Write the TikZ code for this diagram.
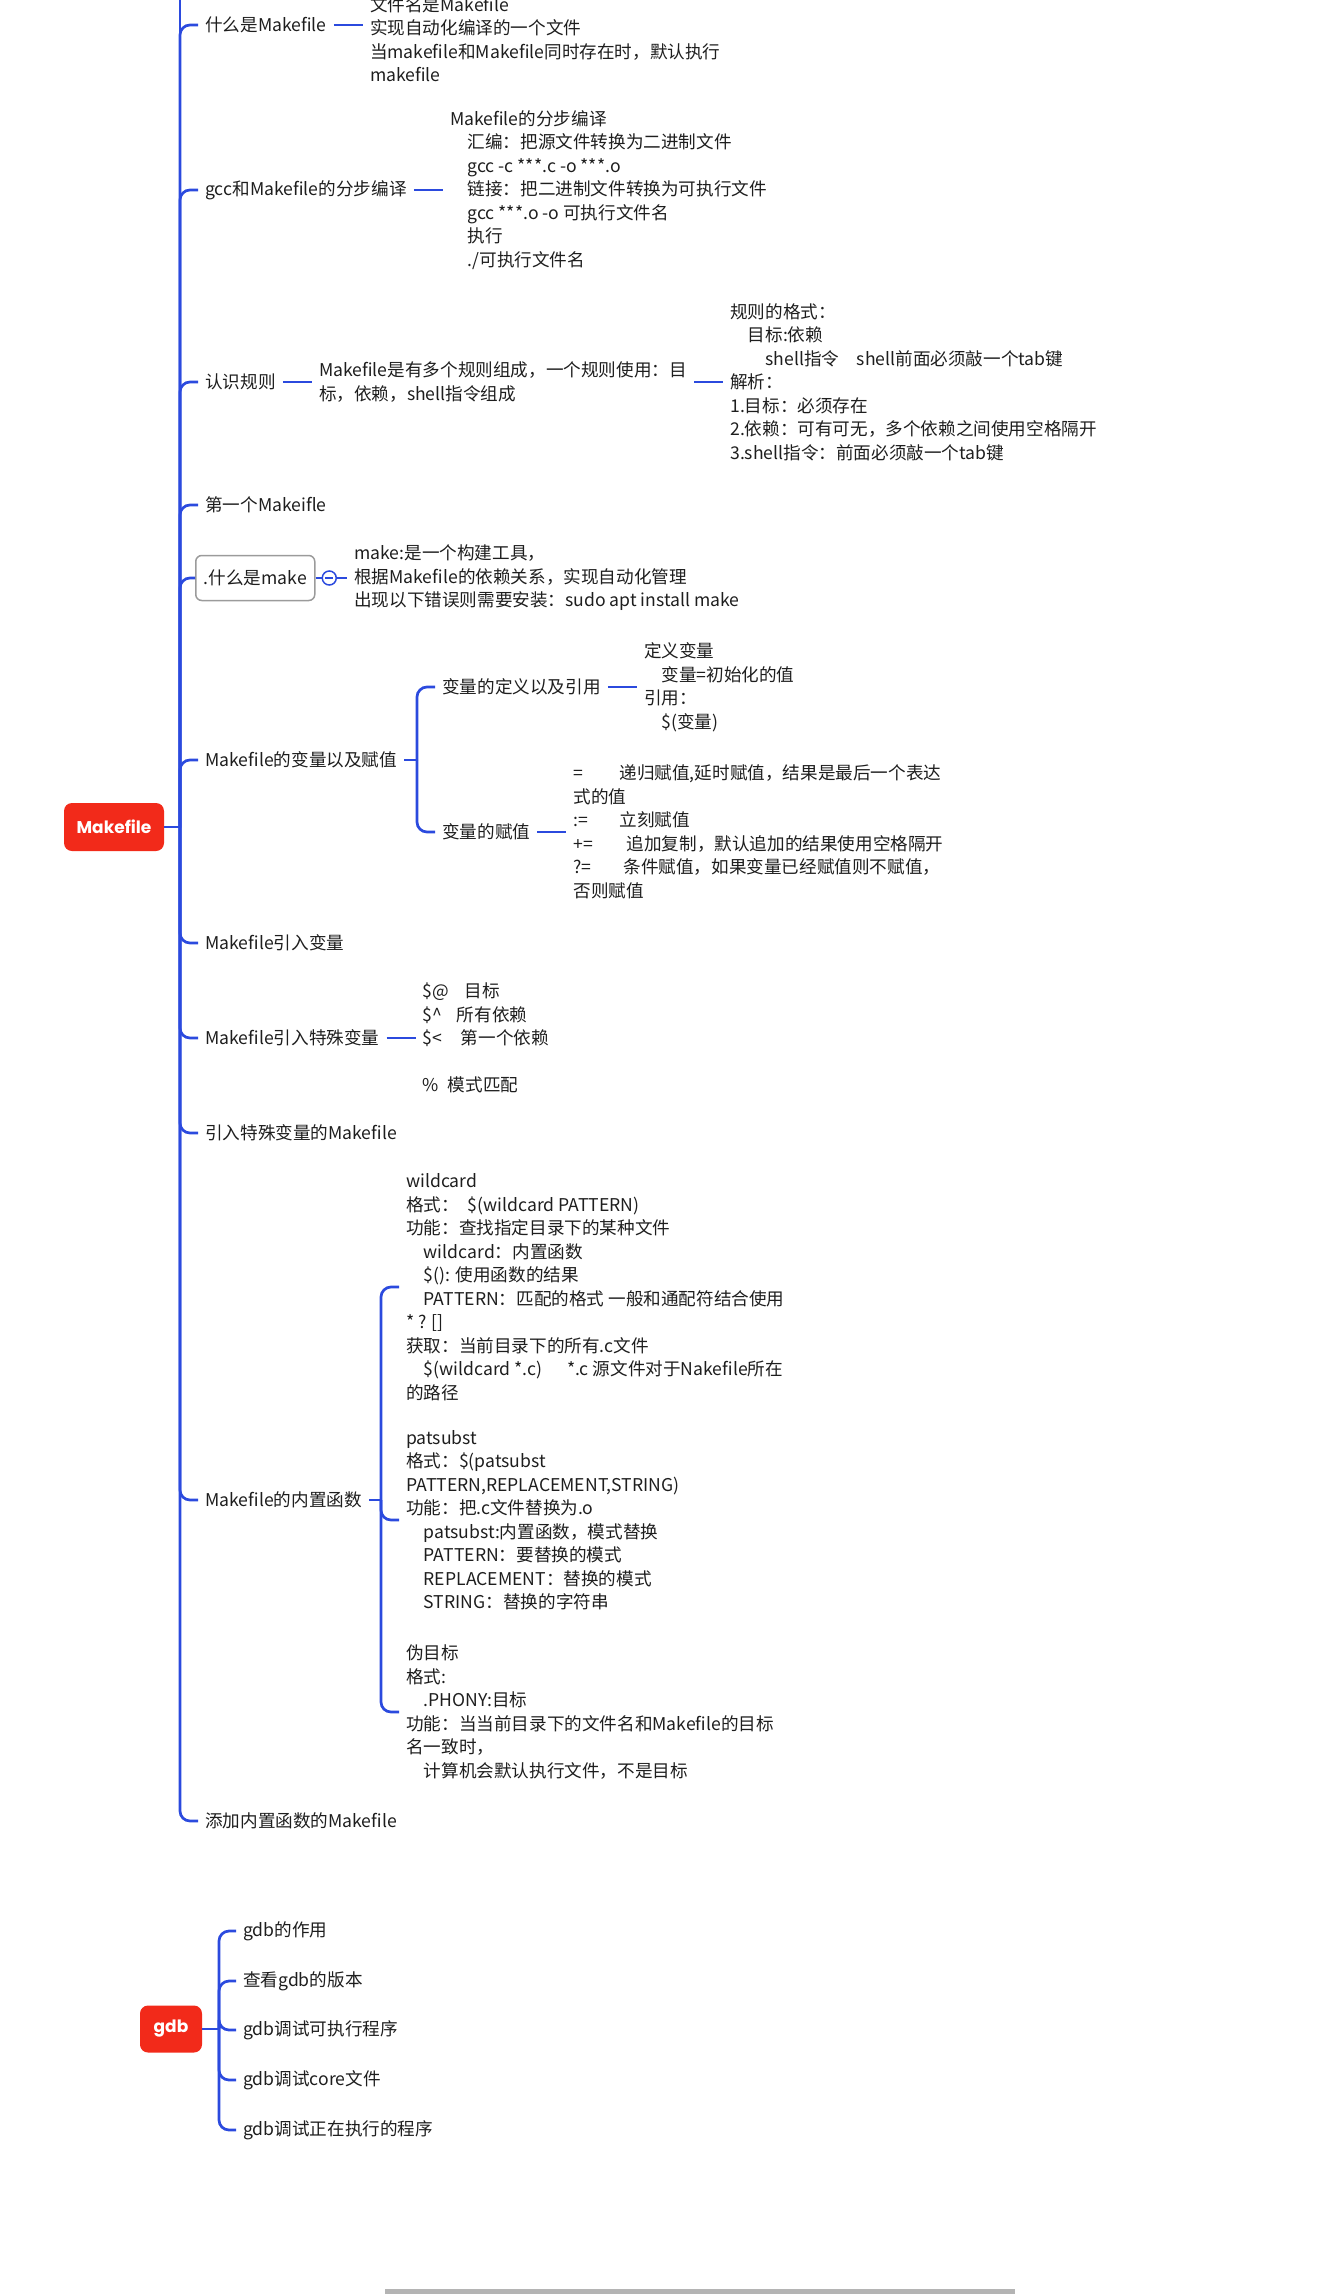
\documentclass[tikz,border=0pt]{standalone}
\usepackage{fontspec}
\setmainfont{Noto Sans CJK SC}
\newfontfamily\rootfont{Poppins}
\usepackage{tikz}
\usetikzlibrary{positioning}
\definecolor{lineblue}{RGB}{43,74,222}
\definecolor{rootred}{RGB}{242,42,26}
\definecolor{boxgrey}{RGB}{155,155,155}
\definecolor{inkgrey}{RGB}{30,30,30}
\definecolor{scrollgrey}{RGB}{180,180,180}
\tikzstyle{root} = [
    rectangle,
    rounded corners=8pt,
    fill=rootred,
    text=white,
    font=\rootfont\bfseries\fontsize{17}{20}\selectfont
]
\tikzstyle{topic} = [
    anchor=west,
    inner xsep=7pt,
    inner ysep=2pt,
    text=inkgrey,
    font=\fontsize{17.6}{23.5}\selectfont
]
\tikzstyle{note} = [
    topic,
    align=left
]
\tikzstyle{branch} = [
    draw=lineblue,
    line width=2.7pt,
    rounded corners=10pt
]
\tikzstyle{stub} = [
    draw=lineblue,
    line width=2.7pt
]

\begin{document}
\begin{tikzpicture}[x=1pt, y=-1pt, node distance=29pt]
    % Screenshot frame
    \useasboundingbox (0,0) rectangle (1322,2294);

    % Makefile root and trunk
    \node[root, minimum width=100pt, minimum height=48pt] (mk) at (114,827) {Makefile};
    \coordinate (mkj) at (180,827);
    \coordinate (mktop) at (180,0);
    \draw[stub] (mk.east) -- (mkj);
    \draw[stub] (mkj) -- (mktop);

    % First level topics
    \node[topic] (what) at (198,25) {什么是Makefile};
    \node[topic] (gcc) at (198,190) {gcc和Makefile的分步编译};
    \node[topic] (rule) at (198,382) {认识规则};
    \node[topic] (first) at (198,505) {第一个Makeifle};
    \node[topic, draw=boxgrey, line width=1.5pt, rounded corners=6pt,
          inner xsep=8pt, minimum height=45pt] (make) at (195,578) {.什么是make};
    \node[topic] (vars) at (198,760) {Makefile的变量以及赋值};
    \node[topic] (usevar) at (198,943) {Makefile引入变量};
    \node[topic] (special) at (198,1038) {Makefile引入特殊变量};
    \node[topic] (usespec) at (198,1133) {引入特殊变量的Makefile};
    \node[topic] (func) at (198,1500) {Makefile的内置函数};
    \node[topic] (usefunc) at (198,1821) {添加内置函数的Makefile};

    \foreach \t in {what,gcc,rule,first,make,vars,usevar,special,usespec,func,usefunc}
        \draw[branch] (mkj) |- (\t.west);

    % What is Makefile
    \node[note, right=of what, yshift=-14pt] (whatn) {文件名是Makefile\\实现自动化编译的一个文件\\当makefile和Makefile同时存在时，默认执行\\makefile};
    \draw[stub] (what.east) -- (what.east -| whatn.west);

    % gcc steps
    \node[note, right=of gcc] (gccn) {Makefile的分步编译\\\hspace*{1em}汇编：把源文件转换为二进制文件\\\hspace*{1em}gcc -c ***.c -o ***.o\\\hspace*{1em}链接：把二进制文件转换为可执行文件\\\hspace*{1em}gcc ***.o -o 可执行文件名\\\hspace*{1em}执行\\\hspace*{1em}./可执行文件名};
    \draw[stub] (gcc.east) -- (gccn.west);

    % Rules
    \node[note, right=of rule] (rulem) {Makefile是有多个规则组成，一个规则使用：目\\标，依赖，shell指令组成};
    \node[note, right=of rulem] (rulen) {规则的格式：\\\hspace*{1em}目标:依赖\\\hspace*{2em}shell指令\hspace{1em}shell前面必须敲一个tab键\\解析：\\1.目标：必须存在\\2.依赖：可有可无，多个依赖之间使用空格隔开\\3.shell指令：前面必须敲一个tab键};
    \draw[stub] (rule.east) -- (rulem.west);
    \draw[stub] (rulem.east) -- (rulen.west);

    % What is make (folded marker)
    \node[circle, draw=lineblue, line width=1.5pt, minimum size=14pt, inner sep=0pt,
          right=6pt of make] (fold) {};
    \draw[lineblue, line width=1.5pt] ([xshift=-4pt]fold.center) -- ([xshift=4pt]fold.center);
    \node[note, right=10pt of fold] (maken) {make:是一个构建工具，\\根据Makefile的依赖关系，实现自动化管理\\出现以下错误则需要安装：sudo apt install make};
    \draw[stub, line width=1.5pt] (make.east) -- (fold.west);
    \draw[stub] (fold.east) -- (maken.west);

    % Variables
    \coordinate (varsj) at (417,760);
    \node[topic] (vdef) at (435,687) {变量的定义以及引用};
    \node[topic] (vset) at (435,832) {变量的赋值};
    \draw[stub] (vars.east) -- (varsj);
    \draw[branch] (varsj) |- (vdef.west);
    \draw[branch] (varsj) |- (vset.west);
    \node[note, right=of vdef] (vdefn) {定义变量\\\hspace*{1em}变量=初始化的值\\引用：\\\hspace*{1em}\$(变量)};
    \draw[stub] (vdef.east) -- (vdefn.west);
    \node[note, right=of vset] (vsetn) {\makebox[46pt][l]{=}递归赋值,延时赋值，结果是最后一个表达\\式的值\\\makebox[46pt][l]{:=}立刻赋值\\\makebox[53pt][l]{+=}追加复制，默认追加的结果使用空格隔开\\\makebox[50pt][l]{?=}条件赋值，如果变量已经赋值则不赋值，\\否则赋值};
    \draw[stub] (vset.east) -- (vsetn.west);

    % Special variables
    \node[note, right=of special] (specn) {\makebox[42pt][l]{\$@}目标\\\makebox[34pt][l]{\$\textasciicircum}所有依赖\\\makebox[38pt][l]{\$<}第一个依赖\\\mbox{}\\\makebox[25pt][l]{\%}模式匹配};
    \draw[stub] (special.east) -- (specn.west);

    % Built-in functions
    \coordinate (funcj) at (381,1500);
    \draw[stub] (func.east) -- (funcj);
    \node[note] (wild) at (399,1287) {wildcard\\格式：\hspace{0.5em}\$(wildcard PATTERN)\\功能：查找指定目录下的某种文件\\\hspace*{1em}wildcard：内置函数\\\hspace*{1em}\$(): 使用函数的结果\\\hspace*{1em}PATTERN：匹配的格式 一般和通配符结合使用\\{}* ? []\\获取：当前目录下的所有.c文件\\\hspace*{1em}\$(wildcard *.c)\hspace{1.4em}*.c 源文件对于Nakefile所在\\的路径};
    \node[note] (pats) at (399,1520) {patsubst\\格式：\$(patsubst\\PATTERN,REPLACEMENT,STRING)\\功能：把.c文件替换为.o\\\hspace*{1em}patsubst:内置函数，模式替换\\\hspace*{1em}PATTERN：要替换的模式\\\hspace*{1em}REPLACEMENT：替换的模式\\\hspace*{1em}STRING：替换的字符串};
    \node[note] (phony) at (399,1712) {伪目标\\格式:\\\hspace*{1em}.PHONY:目标\\功能：当当前目录下的文件名和Makefile的目标\\名一致时，\\\hspace*{1em}计算机会默认执行文件，不是目标};
    \foreach \b in {wild,pats,phony}
        \draw[branch] (funcj) |- (\b.west);

    % gdb root
    \node[root, minimum width=62pt, minimum height=47pt] (gdb) at (171,2029) {gdb};
    \coordinate (gdbj) at (219,2029);
    \draw[stub] (gdb.east) -- (gdbj);
    \foreach \n/\y/\t in {g1/1931/gdb的作用, g2/1981/查看gdb的版本, g3/2030/gdb调试可执行程序,
                          g4/2080/gdb调试core文件, g5/2130/gdb调试正在执行的程序} {
        \node[topic] (\n) at (236,\y) {\t};
        \draw[branch] (gdbj) |- (\n.west);
    }

    % Scroll bar
    \fill[scrollgrey] (385,2289) rectangle (1015,2294);
\end{tikzpicture}
\end{document}
